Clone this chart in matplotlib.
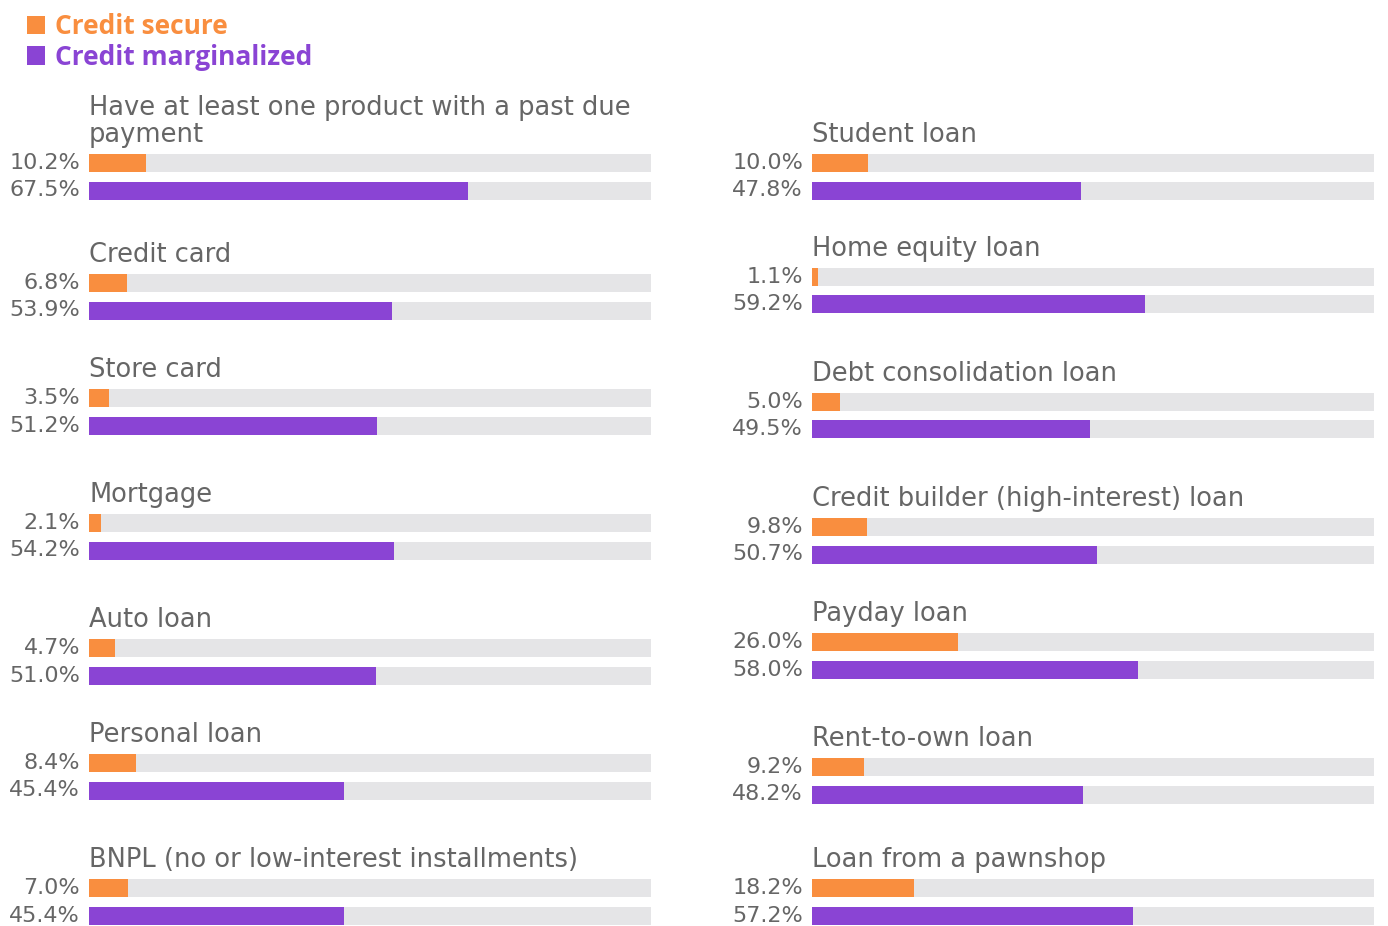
import matplotlib
matplotlib.use("Agg")
import matplotlib.pyplot as plt

# data
left_labels = ["Have at least one product with a past due\npayment", "Credit card", "Store card",
               "Mortgage", "Auto loan", "Personal loan", "BNPL (no or low-interest installments)"]
left_secure = [10.2, 6.8, 3.5, 2.1, 4.7, 8.4, 7.0]
left_marg = [67.5, 53.9, 51.2, 54.2, 51.0, 45.4, 45.4]

right_labels = ["Student loan", "Home equity loan", "Debt consolidation loan",
                "Credit builder (high-interest) loan", "Payday loan", "Rent-to-own loan",
                "Loan from a pawnshop"]
right_secure = [10.0, 1.1, 5.0, 9.8, 26.0, 9.2, 18.2]
right_marg = [47.8, 59.2, 49.5, 50.7, 58.0, 48.2, 57.2]

ORANGE = "#f98e3f"
PURPLE = "#8a44d4"
TRACK = "#e5e5e7"
GREY = "#666666"
FONT = ["DejaVu Sans"]

W, H = 1388, 926
fig = plt.figure(figsize=(W / 100, H / 100), dpi=100)

# pixel layout (orange bar center per row)
left_rows = [163, 283, 398, 523, 648, 763, 888]
right_rows = [163, 277, 402, 527, 642, 767, 888]
gap = 27.5
bar_px = 18
x0_left, x0_right, width_px = 89, 812, 562

handles = None
for labels, sec, marg, rows, x0 in [
        (left_labels, left_secure, left_marg, left_rows, x0_left),
        (right_labels, right_secure, right_marg, right_rows, x0_right)]:
    for lab, s, m, yc in zip(labels, sec, marg, rows):
        top = yc - bar_px / 2
        bottom = yc + gap + bar_px / 2
        ax = fig.add_axes([x0 / W, 1 - bottom / H, width_px / W, (bottom - top) / H])
        h = bar_px / gap
        ax.barh([0, 1], [100, 100], height=h, color=TRACK)
        b1 = ax.barh([0], [s], height=h, color=ORANGE, label="Credit secure")
        b2 = ax.barh([1], [m], height=h, color=PURPLE, label="Credit marginalized")
        handles = [b1, b2]
        ax.set_xlim(0, 100)
        ax.set_ylim(1 + h / 2, -h / 2)
        ax.axis("off")
        for yy, v in zip([0, 1], [s, m]):
            ax.annotate(f"{v:.1f}%", xy=(0, yy), xycoords=("axes fraction", "data"),
                        xytext=(-9, 0), textcoords="offset pixels", ha="right", va="center",
                        fontsize=16, color=GREY, family=FONT)
        nlines = lab.count("\n") + 1
        off = 19 + (nlines - 1) * 13.5
        ax.annotate(lab, xy=(0, 1), xycoords="axes fraction", xytext=(0, off),
                    textcoords="offset pixels", ha="left", va="center", fontsize=18.5,
                    color=GREY, family=FONT, linespacing=1.05)

leg = fig.legend(handles=handles, loc="upper left", bbox_to_anchor=(27 / W, 1 - 13 / H),
                 frameon=False, handlelength=0.7, handleheight=0.7, handletextpad=0.35,
                 labelspacing=0.15, borderpad=0, borderaxespad=0,
                 prop={"family": ["Open Sans", "DejaVu Sans"], "weight": "bold", "size": 19})
for t, c in zip(leg.get_texts(), [ORANGE, PURPLE]):
    t.set_color(c)

fig.savefig("out.png", dpi=100)
